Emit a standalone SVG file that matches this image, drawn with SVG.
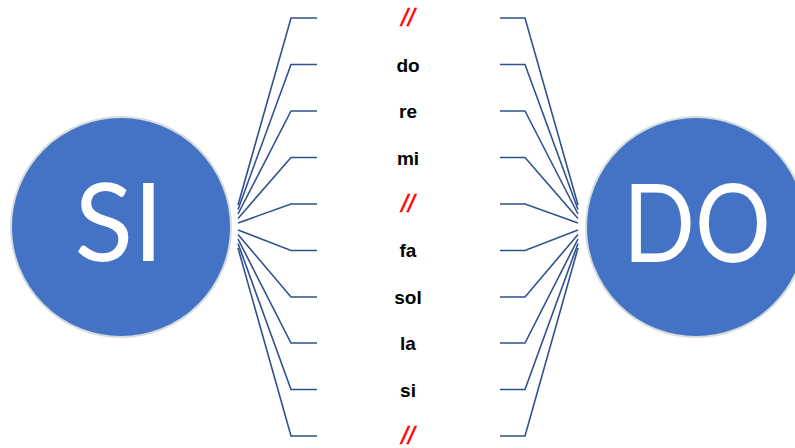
<svg xmlns="http://www.w3.org/2000/svg" width="795" height="448" viewBox="0 0 795 448">
<style>
.node{fill:#4472C4;stroke:#D5DCDC;stroke-width:2}
.big{font-family:Lato,"Open Sans",sans-serif;font-size:108px;fill:#FFFFFF;text-anchor:middle}
.lbl{font-family:"Liberation Sans",Arial,sans-serif;font-size:19px;font-weight:bold;fill:#000000;text-anchor:middle}
.sep{font-family:"Liberation Sans",Arial,sans-serif;font-size:24px;font-style:italic;fill:#FF0000;stroke:#FF0000;stroke-width:0.6;text-anchor:middle}
.con{fill:none;stroke:#2F528F;stroke-width:1.6}
</style>
<rect width="795" height="448" fill="#FFFFFF"/>
<g id="connectors">
<polyline class="con" points="238,205 291,18 317,18"/>
<polyline class="con" points="238,209.5 291,64.5 317,64.5"/>
<polyline class="con" points="238,214 291,111 317,111"/>
<polyline class="con" points="238,218.5 291,157.5 317,157.5"/>
<polyline class="con" points="238,223 291,204 317,204"/>
<polyline class="con" points="238,230 291,250.5 317,250.5"/>
<polyline class="con" points="238,234.5 291,297 317,297"/>
<polyline class="con" points="238,239 291,343 317,343"/>
<polyline class="con" points="238,243.5 291,389.5 317,389.5"/>
<polyline class="con" points="238,248 291,436 317,436"/>
<polyline class="con" points="578,205 525,18 500,18"/>
<polyline class="con" points="578,209.5 525,64.5 500,64.5"/>
<polyline class="con" points="578,214 525,111 500,111"/>
<polyline class="con" points="578,218.5 525,157.5 500,157.5"/>
<polyline class="con" points="578,223 525,204 500,204"/>
<polyline class="con" points="578,230 525,250.5 500,250.5"/>
<polyline class="con" points="578,234.5 525,297 500,297"/>
<polyline class="con" points="578,239 525,343 500,343"/>
<polyline class="con" points="578,243.5 525,389.5 500,389.5"/>
<polyline class="con" points="578,248 525,436 500,436"/>
</g>
<g id="node-si">
<circle class="node" cx="121" cy="227" r="110"/>
<text class="big" x="119" y="261">SI</text>
</g>
<g id="node-do">
<circle class="node" cx="696" cy="227" r="110"/>
<text class="big" x="697" y="262" textLength="148" lengthAdjust="spacingAndGlyphs">DO</text>
</g>
<g id="labels">
<text class="sep" x="408" y="26">//</text>
<text class="lbl" x="408" y="72">do</text>
<text class="lbl" x="408" y="118">re</text>
<text class="lbl" x="408" y="165">mi</text>
<text class="sep" x="408" y="212">//</text>
<text class="lbl" x="408" y="257">fa</text>
<text class="lbl" x="408" y="304">sol</text>
<text class="lbl" x="408" y="350">la</text>
<text class="lbl" x="408" y="397">si</text>
<text class="sep" x="408" y="444">//</text>
</g>
</svg>
